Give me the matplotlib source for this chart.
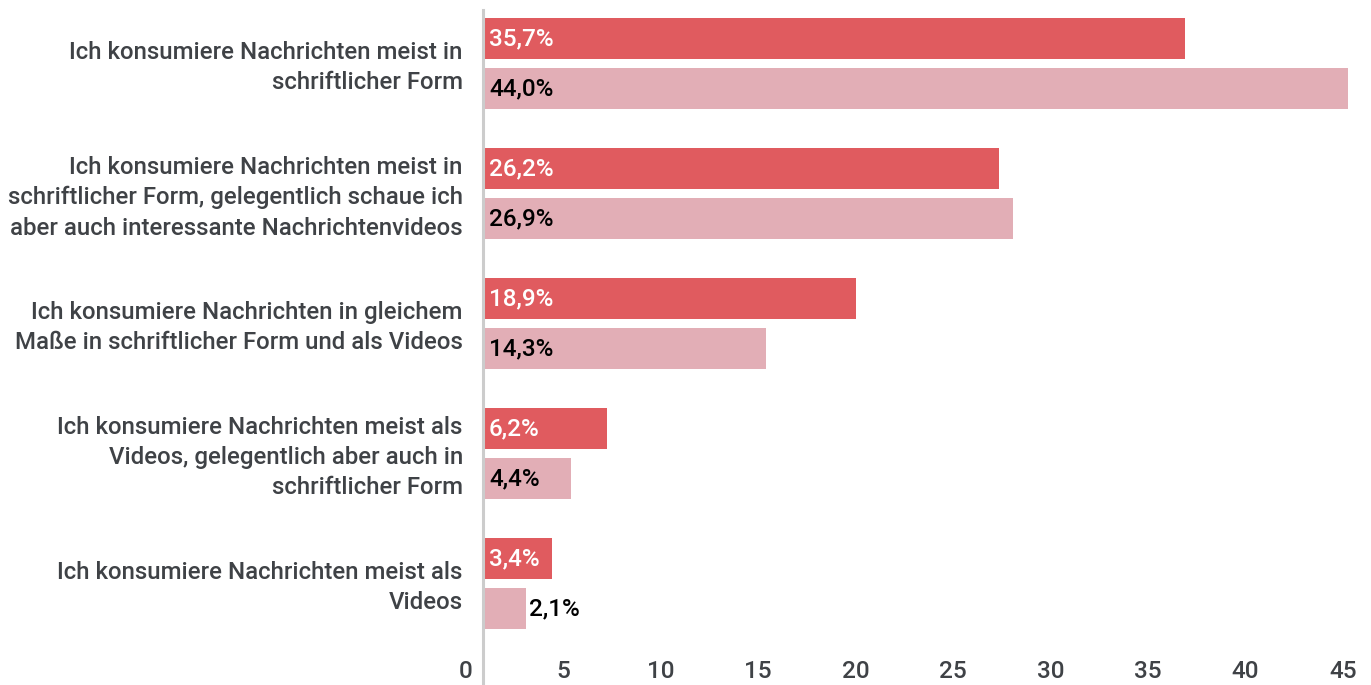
import matplotlib
matplotlib.use("Agg")
import matplotlib.pyplot as plt
from matplotlib.transforms import ScaledTranslation
import numpy as np

categories = [
    "Ich konsumiere Nachrichten meist in\nschriftlicher Form",
    "Ich konsumiere Nachrichten meist in\nschriftlicher Form, gelegentlich schaue ich\naber auch interessante Nachrichtenvideos",
    "Ich konsumiere Nachrichten in gleichem\nMaße in schriftlicher Form und als Videos",
    "Ich konsumiere Nachrichten meist als\nVideos, gelegentlich aber auch in\nschriftlicher Form",
    "Ich konsumiere Nachrichten meist als\nVideos",
]
series_a = [35.7, 26.2, 18.9, 6.2, 3.4]
series_b = [44.0, 26.9, 14.3, 4.4, 2.1]
ticks = [0, 5, 10, 15, 20, 25, 30, 35, 40, 45]

color_a = "#E05B5F"
color_b = "#E2AEB6"
text_grey = "#3F4246"

plt.rcParams['font.family'] = ['Roboto', 'DejaVu Sans']

W, H = 1371, 685
fig = plt.figure(figsize=(W / 100, H / 100), dpi=100)
ax = fig.add_axes([485 / W, 1 - 650 / H, (W - 485) / W, 640 / H])

y = np.arange(len(categories))
off = 25 / 130
h = 41 / 130
ax.barh(y - off, series_a, height=h, color=color_a, zorder=2)
ax.barh(y + off, series_b, height=h, color=color_b, zorder=2)

ax.set_xlim(0, (W - 485) / 19.62)
ax.set_ylim((650 - 63.5) / 130, (10 - 63.5) / 130)

FS = 17.3

def fmt(v):
    return f"{v:.1f}".replace(".", ",") + "%"

for yi, v in zip(y - off, series_a):
    if v * 19.62 > 62:
        ax.text(0.2, yi, fmt(v), color="white", va="center", ha="left", fontsize=17.5, fontweight='medium')
    else:
        ax.text(v + 0.15, yi, fmt(v), color="black", va="center", ha="left", fontsize=17.5, fontweight='medium')
for yi, v in zip(y + off, series_b):
    if v * 19.62 > 62:
        ax.text(0.2, yi, fmt(v), color="black", va="center", ha="left", fontsize=17.5, fontweight='medium')
    else:
        ax.text(v + 0.15, yi, fmt(v), color="black", va="center", ha="left", fontsize=17.5, fontweight='medium')

ax.set_yticks(y)
ax.set_yticklabels(categories, fontsize=FS, color=text_grey, fontweight='medium', linespacing=1.4)
ax.tick_params(axis='y', length=0, pad=16)
for lbl in ax.get_yticklabels():
    lbl.set_transform(lbl.get_transform() + ScaledTranslation(0, 2 / 100, fig.dpi_scale_trans))

ax.set_xticks(ticks)
ax.set_xticklabels([str(t) for t in ticks], fontsize=17.5, color=text_grey, fontweight='medium')
ax.tick_params(axis='x', length=0, pad=7)
for t, lbl in zip(ticks, ax.get_xticklabels()):
    dx = -19 - 6 * t / 45
    lbl.set_transform(lbl.get_transform() + ScaledTranslation(dx / 100, 0, fig.dpi_scale_trans))

for s in ["top", "right", "bottom", "left"]:
    ax.spines[s].set_visible(False)
ax.axvline(-0.08, ymin=-35 / 640, ymax=1, color="#CCCCCC", lw=2.2, clip_on=False, zorder=3)

fig.savefig("out.png", dpi=100)
